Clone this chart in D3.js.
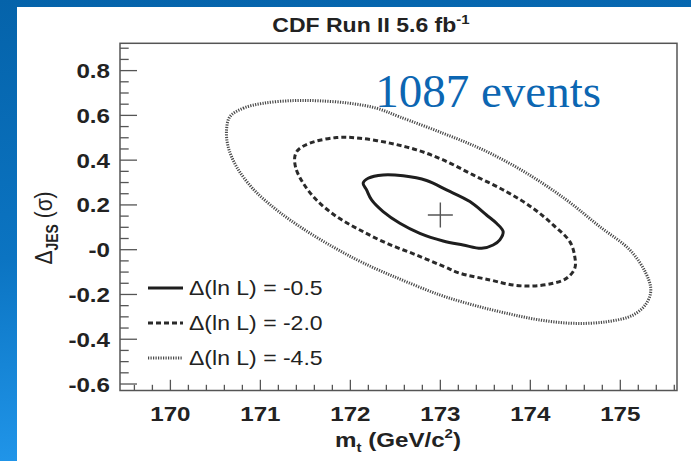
<!DOCTYPE html>
<html>
<head>
<meta charset="utf-8">
<script src="https://cdn.jsdelivr.net/npm/d3@7"></script>
<style>
  html, body { margin: 0; padding: 0; background: #0766ae; }
  svg { display: block; }
</style>
</head>
<body>
<svg id="chart" width="691" height="461"></svg>
<script>
// Likelihood contours in the (m_t, Δ_JES) plane
const contourLevels = ["Δ(ln L) = -0.5", "Δ(ln L) = -2.0", "Δ(ln L) = -4.5"];

const contourHalf = [ // Δ(ln L) = -0.5
  [172.142,0.297],[172.198,0.319],[172.364,0.334],[172.587,0.330],[172.847,0.309],
  [173.069,0.267],[173.328,0.215],[173.513,0.155],[173.624,0.118],[173.698,0.081],
  [173.661,0.044],[173.587,0.021],[173.458,0.006],[173.253,0.021],[173.031,0.039],
  [172.772,0.073],[172.550,0.118],[172.364,0.170],[172.236,0.222],[172.180,0.267]
];

const contourTwo = [ // Δ(ln L) = -2.0
  [171.420,0.446],[171.550,0.476],[171.847,0.501],[172.106,0.498],[172.439,0.476],
  [172.736,0.446],[173.031,0.401],[173.364,0.334],[173.736,0.259],[174.031,0.185],
  [174.253,0.111],[174.439,0.036],[174.494,-0.031],[174.494,-0.083],[174.402,-0.128],
  [174.253,-0.150],[174.031,-0.162],[173.809,-0.158],[173.550,-0.135],[173.217,-0.105],
  [173.050,-0.077],[172.736,-0.024],[172.402,0.029],[172.106,0.088],[171.847,0.148],
  [171.624,0.222],[171.476,0.297],[171.394,0.364],[171.383,0.416]
];

const contourFourHalf = [ // Δ(ln L) = -4.5
  [170.661,0.594],[170.809,0.632],[171.031,0.654],[171.364,0.666],[171.661,0.665],
  [171.994,0.654],[172.291,0.632],[172.550,0.593],[173.031,0.520],[173.476,0.446],
  [173.958,0.342],[174.402,0.222],[174.772,0.103],[175.106,-0.001],[175.283,-0.104],
  [175.339,-0.180],[175.291,-0.239],[175.142,-0.292],[174.847,-0.322],[174.476,-0.329],
  [174.106,-0.314],[173.736,-0.284],[173.364,-0.247],[172.994,-0.202],[172.550,-0.131],
  [172.142,-0.059],[171.809,0.012],[171.476,0.093],[171.180,0.178],[170.920,0.271],
  [170.736,0.370],[170.642,0.460],[170.624,0.535]
];

const bestFit = [173.0, 0.155];

const xTicks = [170, 171, 172, 173, 174, 175];
const xTickLabels = ["170", "171", "172", "173", "174", "175"];
const yTicks = [0.8, 0.6, 0.4, 0.2, 0, -0.2, -0.4, -0.6];
const yTickLabels = ["0.8", "0.6", "0.4", "0.2", "-0", "-0.2", "-0.4", "-0.6"];
const xDomain = [169.44, 175.63];
const yDomain = [-0.629, 0.922];

const svg = d3.select("#chart");

// slide background
const defs = svg.append("defs");
const bg = defs.append("linearGradient").attr("id", "bg")
  .attr("x1", "0").attr("y1", "0").attr("x2", "0.15").attr("y2", "1");
bg.append("stop").attr("offset", "0").attr("stop-color", "#0563aa");
bg.append("stop").attr("offset", "0.55").attr("stop-color", "#0b74c2");
bg.append("stop").attr("offset", "1").attr("stop-color", "#2196ea");
svg.append("rect").attr("width", 691).attr("height", 461).attr("fill", "url(#bg)");
svg.append("rect").attr("x", 17).attr("y", 7).attr("width", 674).attr("height", 454).attr("fill", "#ffffff");

const plotLeft = 120, plotRight = 677, plotTop = 43.3, plotBottom = 390.5;
const x = d3.scaleLinear().domain(xDomain).range([plotLeft, plotRight]);
const y = d3.scaleLinear().domain(yDomain).range([plotBottom, plotTop]);

const axisColor = "#555";
const textColor = "#222";
const sx = 1.15; // horizontal stretch of figure lettering

function stretchedText(g, px, py, str, size, weight, anchor) {
  return g.append("text")
    .attr("transform", `translate(${px},${py}) scale(${sx},1)`)
    .attr("text-anchor", anchor)
    .attr("font-family", "Liberation Sans, Arial, sans-serif")
    .attr("font-size", size)
    .attr("font-weight", weight)
    .attr("fill", textColor)
    .text(str);
}

// frame
svg.append("rect").attr("x", plotLeft).attr("y", plotTop)
  .attr("width", plotRight - plotLeft).attr("height", plotBottom - plotTop)
  .attr("fill", "none").attr("stroke", axisColor).attr("stroke-width", 1.5);

// x axis ticks
const xMinor = d3.range(169.6, 175.61, 0.2).map(v => +v.toFixed(1));
const gx = svg.append("g");
gx.selectAll("line").data(xMinor).join("line")
  .attr("x1", d => x(d)).attr("x2", d => x(d))
  .attr("y1", plotBottom).attr("y2", d => plotBottom - (xTicks.some(t => Math.abs(t - d) < 1e-6) ? 10.7 : 5.7))
  .attr("stroke", axisColor).attr("stroke-width", 1.3);
xTicks.forEach((t, i) => stretchedText(gx, x(t), 421, xTickLabels[i], 21, "bold", "middle"));

// y axis ticks
const yMinor = d3.range(-0.6, 0.901, 0.05).map(v => +v.toFixed(2));
const gy = svg.append("g");
gy.selectAll("line").data(yMinor).join("line")
  .attr("y1", d => y(d)).attr("y2", d => y(d))
  .attr("x1", plotLeft).attr("x2", d => plotLeft + (yTicks.some(t => Math.abs(t - d) < 1e-6) ? 17 : 8.7))
  .attr("stroke", axisColor).attr("stroke-width", 1.3);
yTicks.forEach((t, i) => stretchedText(gy, 110, y(t) + 7.5, yTickLabels[i], 21, "bold", "end"));

// title
const title = stretchedText(svg, 371, 32, "CDF Run II 5.6 fb", 20, "bold", "middle");
title.append("tspan").attr("dy", -8).attr("font-size", 13).text("-1");

// x axis title
const xt = stretchedText(svg, 398, 447, "m", 21, "bold", "middle");
xt.append("tspan").attr("dy", 5).attr("font-size", 13).text("t");
xt.append("tspan").attr("dy", -5).text(" (GeV/c");
xt.append("tspan").attr("dy", -9).attr("font-size", 13).text("2");
xt.append("tspan").attr("dy", 9).text(")");

// y axis title
const yt = svg.append("text")
  .attr("transform", `translate(52,228) rotate(-90) scale(1,${sx})`)
  .attr("text-anchor", "middle")
  .attr("font-family", "Liberation Sans, Arial, sans-serif")
  .attr("font-size", 21).attr("fill", textColor)
  .text("Δ");
yt.append("tspan").attr("dy", 5).attr("font-size", 14).attr("font-weight", "bold").text("JES");
yt.append("tspan").attr("dy", -5).text(" (σ)");

// contours
const line = d3.line().x(d => x(d[0])).y(d => y(d[1])).curve(d3.curveCatmullRomClosed.alpha(0.5));
const styles = [
  { data: contourHalf, dash: null, width: 3, color: "#1e1e1e" },
  { data: contourTwo, dash: "5,3", width: 3, color: "#2a2a2a" },
  { data: contourFourHalf, dash: "1.2,1.3", width: 3, color: "#4a4a4a" }
];
svg.append("g").selectAll("path").data(styles).join("path")
  .attr("d", d => line(d.data))
  .attr("fill", "none")
  .attr("stroke", d => d.color)
  .attr("stroke-width", d => d.width)
  .attr("stroke-dasharray", d => d.dash);

// best-fit marker
const cx = x(bestFit[0]), cy = y(bestFit[1]);
svg.append("path")
  .attr("d", `M${cx - 12.5},${cy}H${cx + 12.5}M${cx},${cy - 12.5}V${cy + 12.5}`)
  .attr("stroke", "#555").attr("stroke-width", 1.4);

// legend
const legend = svg.append("g");
const legendY = [288, 323, 358];
styles.forEach((s, i) => {
  legend.append("line")
    .attr("x1", 148).attr("x2", 183).attr("y1", legendY[i]).attr("y2", legendY[i])
    .attr("stroke", s.color).attr("stroke-width", s.width).attr("stroke-dasharray", s.dash);
  stretchedText(legend, 189, legendY[i] + 7, contourLevels[i], 20, "normal", "start");
});

// event count
svg.append("text")
  .attr("x", 601).attr("y", 107)
  .attr("text-anchor", "end")
  .attr("font-family", "Liberation Serif, Times New Roman, serif")
  .attr("font-size", 47)
  .attr("fill", "#0c66b2")
  .text("1087 events");
</script>
</body>
</html>
